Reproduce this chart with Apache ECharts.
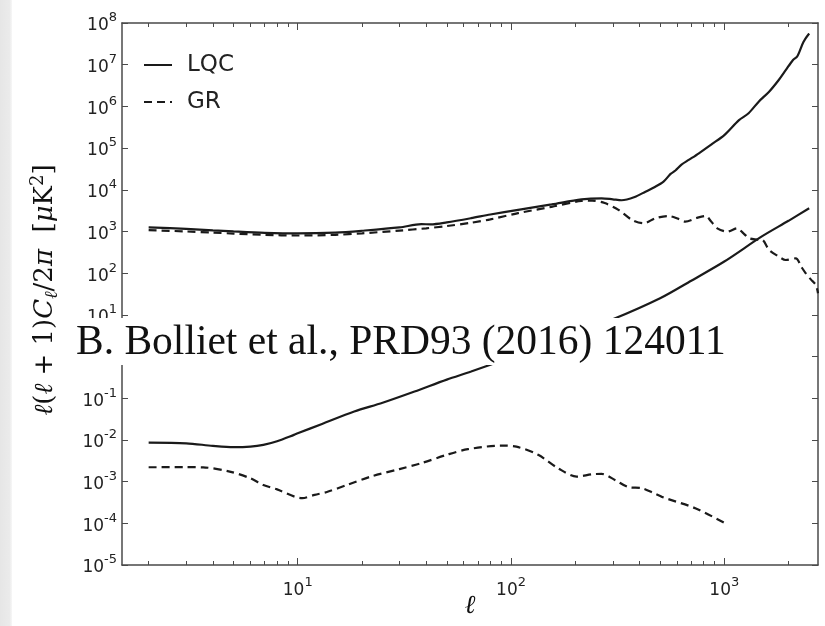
<!DOCTYPE html>
<html><head><meta charset="utf-8">
<script src="https://cdn.jsdelivr.net/npm/echarts@6/dist/echarts.min.js"></script>
<style>html,body{margin:0;padding:0;background:#fff}#c{width:825px;height:626px}</style>
</head><body><div id="c"></div>
<script>
// ---- data ----
const lqcHighL = [2,3,4,5,7,10,15,20,30,38,42,50,65,80,108,155,214,266,300,330,380,427,470,519,560,590,630,681,760,877,1000,1172,1300,1450,1622,1800,1941,2100,2200,2350,2500];
const lqcHighV = [1260,1150,1060,1000,930,900,940,1040,1250,1500,1480,1650,2080,2550,3300,4450,5900,6250,5900,5600,6700,9000,11500,15700,24000,29000,40000,51900,75000,126000,205000,468000,684000,1300000,2250000,4300000,7400000,13000000,16000000,35000000,56000000];
const grHighL = [2,3,4,5,7,10,15,20,30,40,50,65,80,108,155,214,240,275,319,369,419,474,548,610,656,740,817,870,927,1033,1148,1230,1306,1420,1508,1622,1780,1941,2163,2300,2410,2550,2687,2750];
const grHighV = [1080,1000,940,890,830,800,830,900,1050,1190,1350,1620,1950,2760,3900,5400,5500,4800,3300,1900,1570,2070,2350,2000,1720,2100,2350,1700,1190,990,1190,900,690,640,625,360,260,207,227,140,99,70,52,33];
const lqcLowL = [2,3,4,5,6,6.9,8,9.6,10,13,18.4,25,35.3,50,65,100,150,200,300,500,700,1000,1500,2000,2500];
const lqcLowV = [0.0086,0.0083,0.0072,0.0067,0.0069,0.0076,0.0093,0.0132,0.0144,0.0242,0.048,0.078,0.145,0.28,0.436,0.95,2.0,3.6,7.8,25,66,190,760,1800,3600];
const grLowL = [2,3,3.6,4.8,6,6.9,8,10.5,12,13.8,17,22,30,37.8,50,62.8,90,106,134,166,203,240,266,307,355,410,460,510,731,995];
const grLowV = [0.00221,0.00222,0.0022,0.00174,0.0012,0.00083,0.00065,0.0004,0.00048,0.00057,0.00083,0.00132,0.002,0.00275,0.0044,0.006,0.0073,0.0069,0.0044,0.0021,0.00132,0.0015,0.00153,0.0011,0.00074,0.0007,0.00055,0.00043,0.00023,0.000104];

const xMajorTicks = [10,100,1000];
const xMinorTicks = [2,3,4,5,6,7,8,9,20,30,40,50,60,70,80,90,200,300,400,500,600,700,800,900,2000];
const yTicks = [1e-5,1e-4,1e-3,1e-2,1e-1,1,1e1,1e2,1e3,1e4,1e5,1e6,1e7,1e8];
const seriesNames = ['LQC','GR'];
const citation = 'B. Bolliet et al., PRD93 (2016) 124011';
const xTitle = 'ℓ';

function pairs(a,b){return a.map((x,i)=>[x,b[i]]);}
function powLabel(v){
  const e = Math.round(Math.log10(v));
  return '{b|10}{s|' + (e<0 ? '-' + (-e) : e) + '}';
}
const ink = '#1a1a1a';
const axisCol = '#4a4a4a';
const labRich = {
  b:{fontSize:17, fontFamily:'DejaVu Sans', color:'#222', lineHeight:23, verticalAlign:'bottom'},
  s:{fontSize:13, fontFamily:'DejaVu Sans', color:'#222', lineHeight:13, verticalAlign:'top'}
};
const X = {min:1.5, max:2750};
const Y = {min:1e-5, max:1e8};

const chart = echarts.init(document.getElementById('c'), null, {renderer:'canvas'});
const solid = {color:ink, width:2.2, type:'solid'};
const dashed = {color:ink, width:2.2, type:[8,5]};
function line(name, L, V, ls){
  return {type:'line', name:name, data:pairs(L,V), xAxisIndex:0, yAxisIndex:0,
    symbol:'none', showSymbol:false, smooth:0.3, lineStyle:ls, itemStyle:{color:ink}, animation:false, z:3};
}
chart.setOption({
  animation:false,
  backgroundColor:'#fff',
  grid:[{left:122,right:7,top:23,bottom:61},{left:122,right:7,top:23,bottom:61}],
  legend:{data:seriesNames, orient:'vertical', left:138, top:48, itemWidth:28, itemHeight:14, itemGap:13,
    itemStyle:{opacity:0, borderWidth:0},
    textStyle:{fontSize:23, fontFamily:'DejaVu Sans', color:'#222', lineHeight:24, padding:[0,0,0,10]}},
  xAxis:[
    {gridIndex:0, type:'log', logBase:10, position:'bottom', min:X.min, max:X.max,
      axisLine:{onZero:false, lineStyle:{color:axisCol, width:1.5}},
      axisTick:{inside:true, length:7, customValues:xMajorTicks, lineStyle:{color:axisCol, width:1}},
      axisLabel:{customValues:xMajorTicks, formatter:powLabel, rich:labRich, margin:11},
      splitLine:{show:false}},
    {gridIndex:0, type:'log', logBase:10, position:'top', min:X.min, max:X.max,
      axisLine:{onZero:false, lineStyle:{color:axisCol, width:1.5}},
      axisTick:{inside:true, length:7, customValues:xMajorTicks, lineStyle:{color:axisCol, width:1}},
      axisLabel:{show:false}, splitLine:{show:false}},
    {gridIndex:1, type:'log', logBase:10, position:'bottom', min:X.min, max:X.max,
      axisLine:{show:false, onZero:false},
      axisTick:{inside:true, length:4, customValues:xMinorTicks, lineStyle:{color:axisCol, width:1}},
      axisLabel:{show:false}, splitLine:{show:false}},
    {gridIndex:1, type:'log', logBase:10, position:'top', min:X.min, max:X.max,
      axisLine:{show:false, onZero:false},
      axisTick:{inside:true, length:4, customValues:xMinorTicks, lineStyle:{color:axisCol, width:1}},
      axisLabel:{show:false}, splitLine:{show:false}}
  ],
  yAxis:[
    {gridIndex:0, type:'log', logBase:10, position:'left', min:Y.min, max:Y.max,
      axisLine:{onZero:false, lineStyle:{color:axisCol, width:1.5}},
      axisTick:{inside:true, length:6, customValues:yTicks, lineStyle:{color:axisCol, width:1}},
      axisLabel:{customValues:yTicks, formatter:powLabel, rich:labRich, margin:5},
      splitLine:{show:false}},
    {gridIndex:0, type:'log', logBase:10, position:'right', min:Y.min, max:Y.max,
      axisLine:{onZero:false, lineStyle:{color:axisCol, width:1.5}},
      axisTick:{inside:true, length:6, customValues:yTicks, lineStyle:{color:axisCol, width:1}},
      axisLabel:{show:false}, splitLine:{show:false}},
    {gridIndex:1, type:'log', logBase:10, position:'left', min:Y.min, max:Y.max, show:false}
  ],
  series:[
    line(seriesNames[0], lqcHighL, lqcHighV, solid),
    line(seriesNames[1], grHighL, grHighV, dashed),
    line(seriesNames[0], lqcLowL, lqcLowV, solid),
    line(seriesNames[1], grLowL, grLowV, dashed)
  ],
  graphic:[
    {type:'rect', left:0, top:0, z:100, shape:{width:12, height:626},
      style:{fill:new echarts.graphic.LinearGradient(0,0,1,0,[{offset:0,color:'#e6e6e6'},{offset:0.8,color:'#ebebeb'},{offset:1,color:'#f7f7f7'}])}},
    {type:'rect', left:72, top:318, z:100, shape:{width:658, height:47}, style:{fill:'#fff'}},
    {type:'text', left:76, top:322, z:101, style:{text:citation, font:'41.5px "Liberation Serif"', fill:'#111'}},
    {type:'text', x:470, y:606, z:101, style:{text:xTitle, font:'italic 26px "DejaVu Serif"', fill:'#111', align:'center', verticalAlign:'middle'}},
    {type:'text', x:45, y:290, rotation:Math.PI/2, z:101,
      style:{align:'center', verticalAlign:'middle', fill:'#111',
        text:'{i|ℓ}{n|(}{i|ℓ}{n| + 1)}{i|C}{sub|ℓ}{n|/2}{i|π}{n|  [}{i|μ}{n|K}{sup|2}{n|]}',
        rich:{
          i:{fontFamily:'DejaVu Serif', fontStyle:'italic', fontSize:26, lineHeight:32, verticalAlign:'middle', fill:'#111'},
          n:{fontFamily:'DejaVu Serif', fontSize:26, lineHeight:32, verticalAlign:'middle', fill:'#111'},
          sub:{fontFamily:'DejaVu Serif', fontStyle:'italic', fontSize:18, lineHeight:20, verticalAlign:'bottom', fill:'#111'},
          sup:{fontFamily:'DejaVu Serif', fontSize:18, lineHeight:20, verticalAlign:'top', fill:'#111'}
        }}}
  ]
});
</script></body></html>
